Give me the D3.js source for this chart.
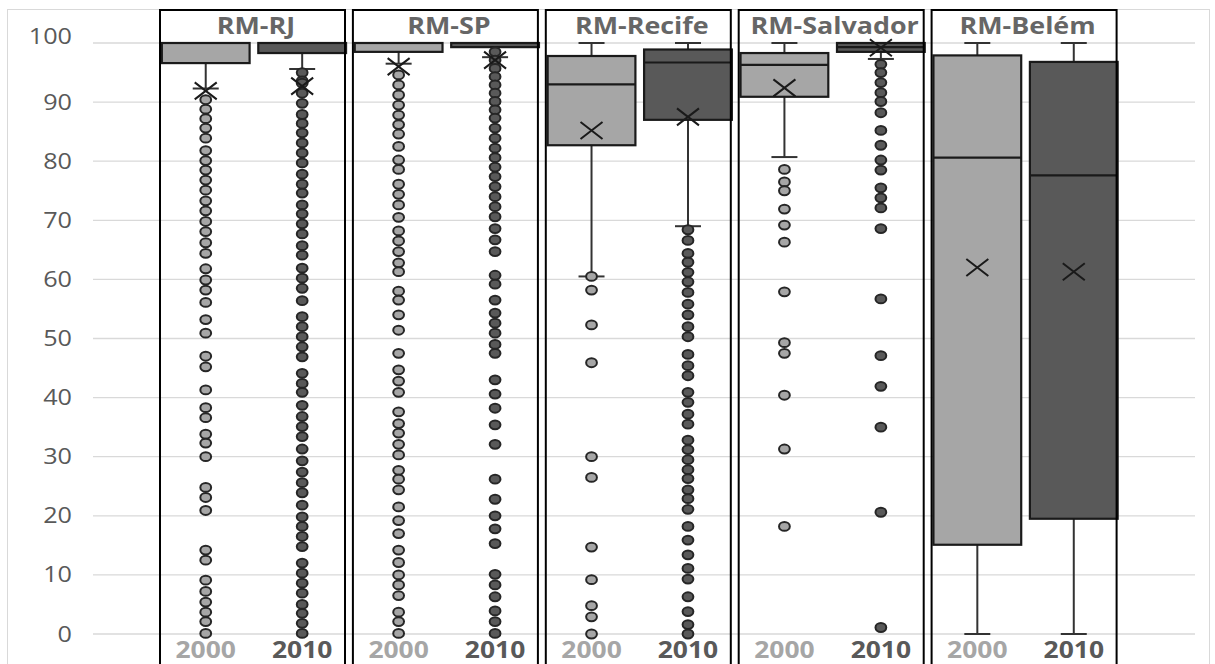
<!DOCTYPE html>
<html>
<head>
<meta charset="utf-8">
<script src="https://cdn.jsdelivr.net/npm/d3@7"></script>
<style>
  body { margin: 0; background: #fff; }
  text { font-family: "Open Sans", "Liberation Sans", sans-serif; }
</style>
</head>
<body>
<script>
/* Categories */
var cities = ["RM-RJ", "RM-SP", "RM-Recife", "RM-Salvador", "RM-Belém"];
var years = ["2000", "2010"];
var yTicks = [0, 10, 20, 30, 40, 50, 60, 70, 80, 90, 100];

/* Box statistics, one value per city (2000) */
var whiskerLow2000 = [92.3, 96.5, 60.5, 80.7, 0];
var q1_2000 = [96.6, 98.5, 82.7, 90.9, 15.1];
var median2000 = [100, 100, 93.0, 96.3, 80.6];
var q3_2000 = [100, 100, 97.8, 98.3, 97.9];
var whiskerHigh2000 = [100, 100, 100, 100, 100];
var mean2000 = [91.9, 96.0, 85.2, 92.4, 62.0];

/* Box statistics (2010) */
var whiskerLow2010 = [95.6, 97.6, 69.0, 97.3, 0];
var q1_2010 = [98.3, 99.3, 87.0, 98.5, 19.5];
var median2010 = [100, 100, 96.7, 99.3, 77.6];
var q3_2010 = [100, 100, 98.9, 100, 96.8];
var whiskerHigh2010 = [100, 100, 100, 100, 100];
var mean2010 = [92.7, 97.1, 87.5, 99.2, 61.3];

/* Outliers */
var outliers2000 = [
  [90.4, 88.8, 87.2, 85.6, 83.9, 81.8, 80.1, 78.5, 76.8, 75.1, 73.3, 71.6, 69.8, 68.1, 66.2, 64.4,
   61.8, 59.9, 58.2, 56.1, 53.2, 50.9, 47.0, 45.2, 41.3, 38.3, 36.6, 33.8, 32.3, 30.0, 24.8, 23.1,
   20.9, 14.2, 12.5, 9.1, 7.2, 5.4, 3.7, 2.1, 0.1],
  [94.6, 92.9, 91.2, 89.5, 87.8, 86.2, 84.6, 82.5, 80.2, 78.6, 76.1, 74.4, 72.6, 70.5, 68.2, 66.5,
   64.7, 62.8, 61.3, 58.0, 56.5, 54.0, 51.4, 47.5, 44.7, 42.8, 40.9, 37.6, 35.6, 34.0, 32.1, 30.3,
   27.7, 26.2, 24.4, 21.5, 19.2, 17.0, 14.2, 12.1, 10.0, 8.3, 6.5, 3.7, 2.1, 0.1],
  [60.5, 58.2, 52.3, 45.9, 30.0, 26.5, 14.7, 9.2, 4.8, 2.9, 0],
  [78.6, 76.5, 75.0, 71.9, 69.2, 66.3, 57.9, 49.3, 47.5, 40.4, 31.3, 18.2],
  []
];
var outliers2010 = [
  [95.0, 93.6, 93.2, 91.5, 89.8, 87.9, 86.4, 84.8, 83.1, 81.4, 79.7, 77.8, 76.1, 74.6, 72.6, 71.1,
   69.4, 67.7, 65.7, 64.1, 61.9, 60.2, 58.5, 56.4, 53.7, 52.0, 50.3, 48.6, 46.9, 44.1, 42.4, 40.9,
   38.7, 36.8, 35.1, 33.4, 31.3, 29.3, 27.4, 25.6, 23.9, 21.8, 19.8, 18.2, 16.5, 14.8, 12.0, 10.3,
   8.6, 6.9, 5.0, 3.5, 1.8, 0.1],
  [98.5, 97.1, 95.7, 94.3, 92.9, 91.5, 90.1, 88.7, 87.3, 85.6, 83.9, 82.2, 80.6, 79.0, 77.4, 75.7,
   74.0, 72.3, 70.6, 68.6, 66.7, 64.7, 60.7, 59.2, 56.5, 54.3, 52.6, 50.9, 49.0, 47.5, 43.0, 40.6,
   38.2, 35.4, 32.1, 26.2, 22.8, 20.0, 17.8, 15.3, 10.1, 8.3, 6.3, 3.9, 2.1, 0.1],
  [68.4, 66.6, 64.4, 62.9, 61.2, 59.6, 57.8, 55.8, 54.0, 52.0, 50.3, 47.3, 45.4, 43.7, 40.9, 39.2,
   37.2, 35.5, 32.8, 31.2, 29.5, 27.8, 26.3, 24.4, 22.9, 21.1, 18.2, 15.9, 13.4, 11.1, 9.3, 6.3,
   3.8, 1.6, 0],
  [96.4, 95.0, 93.3, 91.6, 90.1, 88.2, 85.2, 82.7, 80.2, 78.5, 75.5, 73.8, 72.1, 68.6, 56.7, 47.1,
   41.9, 35.0, 20.6, 1.1],
  []
];

/* Layout */
var width = 1215,
    height = 664;

var fills = { "2000": "#a6a6a6", "2010": "#595959" };
var labelColors = { "2000": "#a6a6a6", "2010": "#595959" };

var svg = d3.select("body").append("svg")
    .attr("width", width)
    .attr("height", height);

var yScale = d3.scaleLinear()
    .domain([0, 100])
    .range([634, 43]);

var xScale = d3.scaleBand()
    .domain(cities)
    .range([157.5, 1122])
    .paddingInner(0);

var xYear = d3.scaleBand()
    .domain(years)
    .range([0, xScale.bandwidth()])
    .paddingInner(0.09)
    .paddingOuter(0.045);

/* build rows from the arrays */
var rows = [];
cities.forEach(function(c, i) {
    rows.push({ city: c, year: "2000", lo: whiskerLow2000[i], q1: q1_2000[i], med: median2000[i],
        q3: q3_2000[i], hi: whiskerHigh2000[i], mean: mean2000[i], out: outliers2000[i] });
    rows.push({ city: c, year: "2010", lo: whiskerLow2010[i], q1: q1_2010[i], med: median2010[i],
        q3: q3_2010[i], hi: whiskerHigh2010[i], mean: mean2010[i], out: outliers2010[i] });
});

function cx(d) { return xScale(d.city) + xYear(d.year) + xYear.bandwidth() / 2; }

/* outer chart border */
svg.append("rect")
    .attr("x", 7.5).attr("y", 9.5)
    .attr("width", 1202).attr("height", 700)
    .attr("fill", "none")
    .attr("stroke", "#d9d9d9");

/* gridlines */
svg.append("g").selectAll("line")
    .data(yTicks)
    .enter().append("line")
    .attr("x1", 93).attr("x2", 1195)
    .attr("y1", function(d) { return yScale(d); })
    .attr("y2", function(d) { return yScale(d); })
    .attr("stroke", "#d9d9d9")
    .attr("stroke-width", 1.3);

/* y labels */
svg.append("g").selectAll("g")
    .data(yTicks)
    .enter().append("g")
    .attr("transform", function(d) {
        var yy = d === 100 ? yScale(d) - 7 : yScale(d);
        return "translate(72," + yy + ") scale(1.2,1)";
    })
    .append("text")
    .attr("text-anchor", "end")
    .attr("dy", "0.36em")
    .attr("font-size", 21)
    .attr("fill", "#595959")
    .text(function(d) { return d; });

/* boxes */
var boxes = svg.append("g").selectAll("g")
    .data(rows)
    .enter().append("g");

var capW = 13;

// whiskers
boxes.append("line")
    .attr("x1", cx).attr("x2", cx)
    .attr("y1", function(d) { return yScale(d.hi); })
    .attr("y2", function(d) { return yScale(d.lo); })
    .attr("stroke", "#333")
    .attr("stroke-width", 2);
boxes.append("line")
    .attr("x1", function(d) { return cx(d) - capW; })
    .attr("x2", function(d) { return cx(d) + capW; })
    .attr("y1", function(d) { return yScale(d.hi); })
    .attr("y2", function(d) { return yScale(d.hi); })
    .attr("stroke", "#333")
    .attr("stroke-width", 2);
boxes.append("line")
    .attr("x1", function(d) { return cx(d) - capW; })
    .attr("x2", function(d) { return cx(d) + capW; })
    .attr("y1", function(d) { return yScale(d.lo); })
    .attr("y2", function(d) { return yScale(d.lo); })
    .attr("stroke", "#333")
    .attr("stroke-width", 2);

boxes.append("rect")
    .attr("x", function(d) { return xScale(d.city) + xYear(d.year); })
    .attr("y", function(d) { return yScale(d.q3); })
    .attr("width", xYear.bandwidth())
    .attr("height", function(d) { return yScale(d.q1) - yScale(d.q3); })
    .attr("fill", function(d) { return fills[d.year]; })
    .attr("stroke", "#1a1a1a")
    .attr("stroke-width", 2.2);

boxes.append("line")
    .attr("x1", function(d) { return xScale(d.city) + xYear(d.year); })
    .attr("x2", function(d) { return xScale(d.city) + xYear(d.year) + xYear.bandwidth(); })
    .attr("y1", function(d) { return yScale(d.med); })
    .attr("y2", function(d) { return yScale(d.med); })
    .attr("stroke", "#1a1a1a")
    .attr("stroke-width", 2.2);

// outlier points
boxes.each(function(d) {
    d3.select(this).selectAll("ellipse")
        .data(d.out)
        .enter().append("ellipse")
        .attr("cx", cx(d))
        .attr("cy", function(v) { return yScale(v); })
        .attr("rx", 5.4)
        .attr("ry", 4.4)
        .attr("fill", fills[d.year])
        .attr("stroke", "#262626")
        .attr("stroke-width", 2);
});

// mean markers
boxes.append("path")
    .attr("d", function(d) {
        var x0 = cx(d), y0 = yScale(d.mean), w = 11, h = 8.5;
        return "M" + (x0 - w) + "," + (y0 - h) + "L" + (x0 + w) + "," + (y0 + h) +
            "M" + (x0 - w) + "," + (y0 + h) + "L" + (x0 + w) + "," + (y0 - h);
    })
    .attr("stroke", "#1a1a1a")
    .attr("stroke-width", 2)
    .attr("fill", "none");

/* panels per city */
svg.append("g").selectAll("rect")
    .data(cities)
    .enter().append("rect")
    .attr("x", function(d) { return xScale(d) + 2.5; })
    .attr("y", 10)
    .attr("width", 185)
    .attr("height", 700)
    .attr("fill", "none")
    .attr("stroke", "#000")
    .attr("stroke-width", 2);

/* city titles */
svg.append("g").selectAll("g")
    .data(cities)
    .enter().append("g")
    .attr("transform", function(d) {
        return "translate(" + (xScale(d) + xScale.bandwidth() / 2 + 2) + ",34) scale(1.12,1)";
    })
    .append("text")
    .attr("text-anchor", "middle")
    .attr("font-size", 24)
    .attr("font-weight", "bold")
    .attr("fill", "#666")
    .text(function(d) { return d; });

/* year labels */
svg.append("g").selectAll("g")
    .data(rows)
    .enter().append("g")
    .attr("transform", function(d) { return "translate(" + cx(d) + ",658) scale(1.15,1)"; })
    .append("text")
    .attr("text-anchor", "middle")
    .attr("font-size", 23)
    .attr("font-weight", "bold")
    .attr("fill", function(d) { return labelColors[d.year]; })
    .text(function(d) { return d.year; });
</script>
</body>
</html>
